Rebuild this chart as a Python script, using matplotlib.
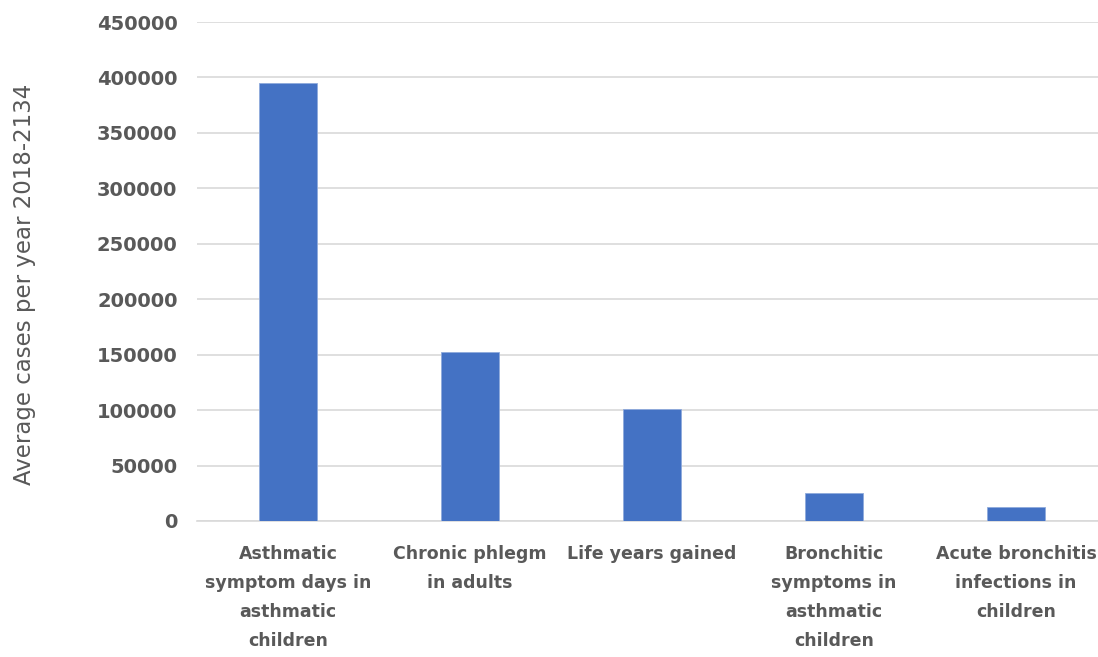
import matplotlib.pyplot as plt
import numpy as np

# data
categories = ['Asthmatic\nsymptom days in\nasthmatic\nchildren',
              'Chronic phlegm\nin adults',
              'Life years gained',
              'Bronchitic\nsymptoms in\nasthmatic\nchildren',
              'Acute bronchitis\ninfections in\nchildren']
cases = [395000, 152000, 101000, 25000, 12500]
yticks = list(range(0, 450001, 50000))

grey = '#595959'
plt.rcParams['font.family'] = ['DejaVu Sans']

fig = plt.figure(figsize=(10.98, 6.57), dpi=100)
ax = fig.add_axes([197 / 1098, 1 - 521 / 657, 910 / 1098, 499 / 657])

x = np.arange(len(categories))
ax.bar(x, cases, width=0.32, color='#4472C4', edgecolor='#8FAADC', linewidth=0.6, zorder=3)

ax.set_xlim(-0.5, len(categories) - 0.5)
ax.set_ylim(0, 450000)
ax.set_yticks(yticks)
ax.set_yticklabels([str(v) for v in yticks], fontsize=14, fontweight='bold', color=grey)
ax.set_xticks(x)
ax.set_xticklabels(categories, fontsize=12.5, fontweight='bold', color=grey, linespacing=1.8, va='top')
ax.tick_params(axis='both', length=0)
ax.tick_params(axis='y', pad=14)
ax.tick_params(axis='x', pad=17)
ax.yaxis.grid(True, color='#D9D9D9', linewidth=1.2, zorder=0)
for s in ax.spines.values():
    s.set_visible(False)
ax.spines['bottom'].set_visible(True)
ax.spines['bottom'].set_color('#D9D9D9')
ax.spines['bottom'].set_linewidth(1.2)

ax.set_ylabel('Average cases per year 2018-2134', fontsize=16.5, color=grey, labelpad=44)
ax.yaxis.label.set_y(0.475)

fig.savefig('out.png', dpi=100)
